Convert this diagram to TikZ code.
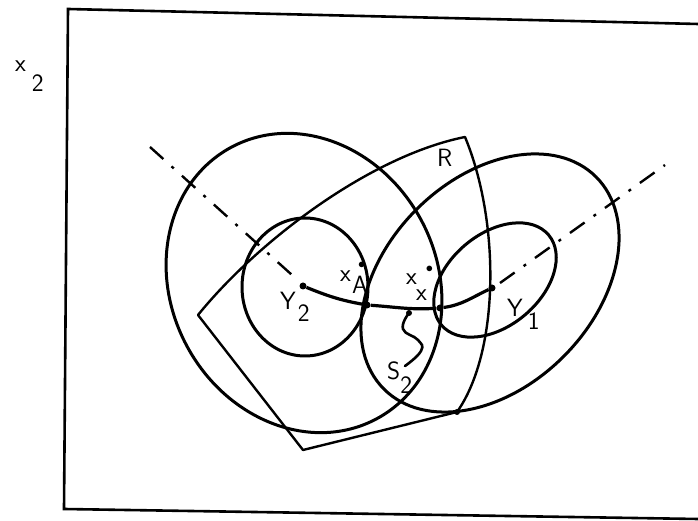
\documentclass[tikz,border=0pt]{standalone}
\usepackage{tikz}
\usetikzlibrary{positioning, calc}

\tikzset{
  contour/.style={line width=3pt},
  region/.style={line width=2.4pt, line join=round},
  axisline/.style={line width=2.4pt, dash pattern=on 18pt off 11pt on 3pt off 11pt},
  handlab/.style={font=\sffamily\fontsize{25}{27}\selectfont, inner sep=0pt, anchor=base west},
  dotpt/.style={circle, fill, inner sep=0pt, minimum size=7pt}
}
\newcommand{\smalldot}{{\fontsize{14}{14}\selectfont$\bullet$}}

\begin{document}
\begin{tikzpicture}[x=1pt, y=1pt]
\useasboundingbox (0,0) rectangle (698,521);

% frame, right side runs off the page
\draw[line width=2.6pt] (698,497) -- (68,512) -- (64,12) -- (698,2);
\node[handlab] (xlab) at (15,449) {x\kern6pt\raisebox{-20pt}{2}};

% region R
\coordinate (rl) at (198,206);
\coordinate (rt) at (465,384);
\coordinate (rb) at (457,109);
\coordinate (rs) at (303,71);
\draw[region] (rl) .. controls (258,280) and (370,365) .. (rt)
  .. controls (500,300) and (500,170) .. (rb) -- (rs) -- cycle;
\fill (rb) circle (3pt);
\node[handlab] (rlab) at (437,354) {R};

% contours around Y2
\draw[contour, rotate around={118:(304,238)}] (304,238) ellipse (154 and 133);
\draw[contour] (305,234) ellipse (63 and 69);

% contours around Y1
\draw[contour, rotate around={45:(490,238)}] (490,238) ellipse (150 and 104);
\draw[contour, rotate around={40:(495,241)}] (495,241) ellipse (70 and 46);

% axes through Y2 and Y1
\coordinate (al1) at (150,374);
\coordinate (al2) at (292,246);
\coordinate (ar1) at (500,238);
\coordinate (ar2) at (665,356);
\draw[axisline] (al1) -- (al2);
\draw[axisline] (ar1) -- (ar2);

% path from Y2 to Y1
\node[dotpt] (Y2) at (303,235) {};
\node[dotpt] (xA) at (367,216) {};
\node[dotpt] (xs) at (440,213) {};
\node[dotpt] (Y1) at (492,233) {};
\draw[line width=3.2pt] (Y2) to[out=-22,in=170] (xA) to[out=-4,in=184] (xs) to[out=8,in=205] (Y1);

% S2
\node[dotpt, minimum size=6pt] (s2top) at (409,208) {};
\draw[line width=2.6pt, line cap=round] plot[smooth, tension=0.8] coordinates {(409,208) (403,192) (418,181) (421,170) (405,155)};

% labels
\node[handlab] (y2lab) at (280,211) {Y\kern2pt\raisebox{-12pt}{2}};
\node[handlab] (xAlab) at (340,239) {x\kern1pt\raisebox{-12pt}{\makebox[0pt][l]{\raisebox{25pt}{\kern6pt\smalldot}}A}};
\node[handlab] (xslab) at (406,236) {x\kern-1pt\raisebox{-16pt}{x}\kern-1pt\raisebox{12pt}{\smalldot}};
\node[handlab] (s2lab) at (387,141) {S\raisebox{-14pt}{2}};
\node[handlab] (y1lab) at (507,204) {Y\kern5pt\raisebox{-13pt}{1}};

\end{tikzpicture}
\end{document}
